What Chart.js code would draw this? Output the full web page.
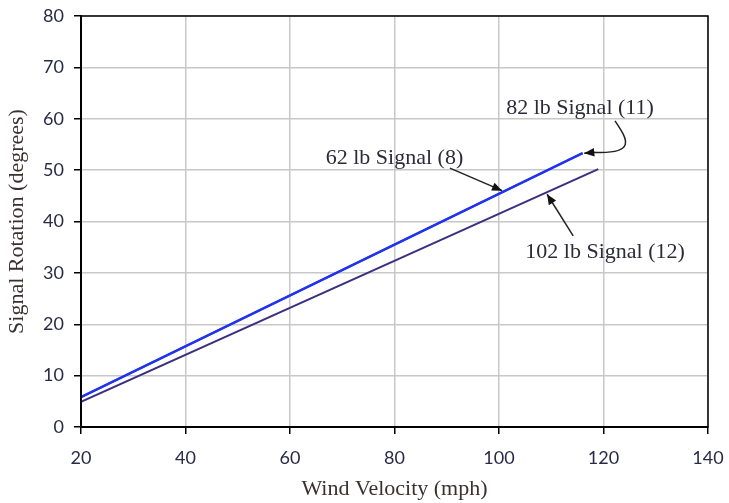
<!DOCTYPE html>
<html><head><meta charset="utf-8">
<script src="https://cdn.jsdelivr.net/npm/chart.js@4"></script>
<style>html,body{margin:0;padding:0;background:#fff}#wrap{width:729px;height:503px}</style>
</head><body><div id="wrap"><canvas id="c" width="729" height="503"></canvas></div>
<script>
const xTicks = [20, 40, 60, 80, 100, 120, 140];
const yTicks = [0, 10, 20, 30, 40, 50, 60, 70, 80];
const windVelocity62 = [20, 116];
const rotation62 = [5.8, 53.3];
const windVelocity82 = [20, 116];
const rotation82 = [5.8, 53.3];
const windVelocity102 = [20, 119];
const rotation102 = [4.9, 50.2];
const seriesNames = ['62 lb Signal (8)', '82 lb Signal (11)', '102 lb Signal (12)'];

const pts = (xs, ys) => xs.map((x, i) => ({x, y: ys[i]}));

// annotation positions in data units
const labels = [
  {text: seriesNames[0], x: 80, y: 52.3},
  {text: seriesNames[1], x: 115.5, y: 62.1},
  {text: seriesNames[2], x: 120.3, y: 34.0}
];

const annot = {
  id: 'annot',
  afterDatasetsDraw(chart) {
    const {ctx, chartArea: a, scales: {x, y}} = chart;
    const P = (vx, vy) => [x.getPixelForValue(vx), y.getPixelForValue(vy)];
    ctx.save();
    ctx.strokeStyle = '#000'; ctx.lineWidth = 1.5;
    ctx.strokeRect(a.left, a.top, a.right - a.left, a.bottom - a.top);
    ctx.font = '22px "Liberation Serif"';
    ctx.fillStyle = '#2b2b3a';
    ctx.textAlign = 'center'; ctx.textBaseline = 'middle';
    labels.forEach(l => { const [px, py] = P(l.x, l.y); ctx.fillText(l.text, px, py); });
    ctx.strokeStyle = '#222'; ctx.fillStyle = '#111'; ctx.lineWidth = 1.5;
    const head = (fx, fy, tx, ty) => {
      const ang = Math.atan2(ty - fy, tx - fx), L = 11, W = 0.4;
      ctx.beginPath();
      ctx.moveTo(tx, ty);
      ctx.lineTo(tx - L * Math.cos(ang - W), ty - L * Math.sin(ang - W));
      ctx.lineTo(tx - L * Math.cos(ang + W), ty - L * Math.sin(ang + W));
      ctx.closePath(); ctx.fill();
    };
    // 62 lb arrow
    let [sx, sy] = P(90.6, 50.4), [ex, ey] = P(100.6, 46.0);
    ctx.beginPath(); ctx.moveTo(sx, sy); ctx.lineTo(ex, ey); ctx.stroke(); head(sx, sy, ex, ey);
    // 102 lb arrow
    [sx, sy] = P(114.2, 37.2); [ex, ey] = P(109.2, 45.3);
    ctx.beginPath(); ctx.moveTo(sx, sy); ctx.lineTo(ex, ey); ctx.stroke(); head(sx, sy, ex, ey);
    // 82 lb curved arrow
    [sx, sy] = P(122.2, 59.6); [ex, ey] = P(116.3, 53.3);
    const [c1x, c1y] = P(124.6, 56.0), [c2x, c2y] = P(126.5, 53.0);
    ctx.beginPath(); ctx.moveTo(sx, sy); ctx.bezierCurveTo(c1x, c1y, c2x, c2y, ex + 8, ey - 1); ctx.lineTo(ex, ey); ctx.stroke();
    head(ex + 10, ey - 1, ex, ey);
    ctx.restore();
  }
};

new Chart(document.getElementById('c'), {
  type: 'scatter',
  data: {
    datasets: [
      {label: seriesNames[0], data: pts(windVelocity62, rotation62), showLine: true, borderColor: '#2233ee', borderWidth: 2.5, pointRadius: 0},
      {label: seriesNames[1], data: pts(windVelocity82, rotation82), showLine: true, borderColor: '#2a44f0', borderWidth: 2, pointRadius: 0},
      {label: seriesNames[2], data: pts(windVelocity102, rotation102), showLine: true, borderColor: '#3b2f80', borderWidth: 2, pointRadius: 0}
    ]
  },
  options: {
    responsive: false, animation: false,
    layout: {padding: {top: 16, right: 21, bottom: 0, left: 0}},
    plugins: {legend: {display: false}, tooltip: {enabled: false}},
    scales: {
      x: {
        type: 'linear', min: 20, max: 140,
        afterBuildTicks: s => { s.ticks = xTicks.map(v => ({value: v})); },
        afterFit: s => { s.height = 76; s.paddingLeft = 0; s.paddingRight = 0; },
        grid: {color: '#c8c8c8', lineWidth: 1.5, tickColor: '#000', tickLength: 7, tickWidth: 1.5},
        border: {color: '#000', width: 2},
        ticks: {font: {family: 'Lato', size: 18}, color: '#2a2a48', padding: 13},
        title: {display: true, text: 'Wind Velocity (mph)', font: {family: 'Liberation Serif', size: 22}, color: '#3a3030', padding: {top: 0, bottom: 1}}
      },
      y: {
        min: 0, max: 80,
        afterBuildTicks: s => { s.ticks = yTicks.map(v => ({value: v})); },
        afterFit: s => { s.width = 81; s.paddingTop = 0; s.paddingBottom = 0; },
        grid: {color: '#c8c8c8', lineWidth: 1.5, tickColor: '#000', tickLength: 7, tickWidth: 1.5},
        border: {color: '#000', width: 2},
        ticks: {font: {family: 'Lato', size: 18}, color: '#2a2a48', padding: 10},
        title: {display: true, text: 'Signal Rotation (degrees)', font: {family: 'Liberation Serif', size: 22}, color: '#3a3030', padding: {top: 4, bottom: 0}}
      }
    }
  },
  plugins: [annot]
});
</script></body></html>
